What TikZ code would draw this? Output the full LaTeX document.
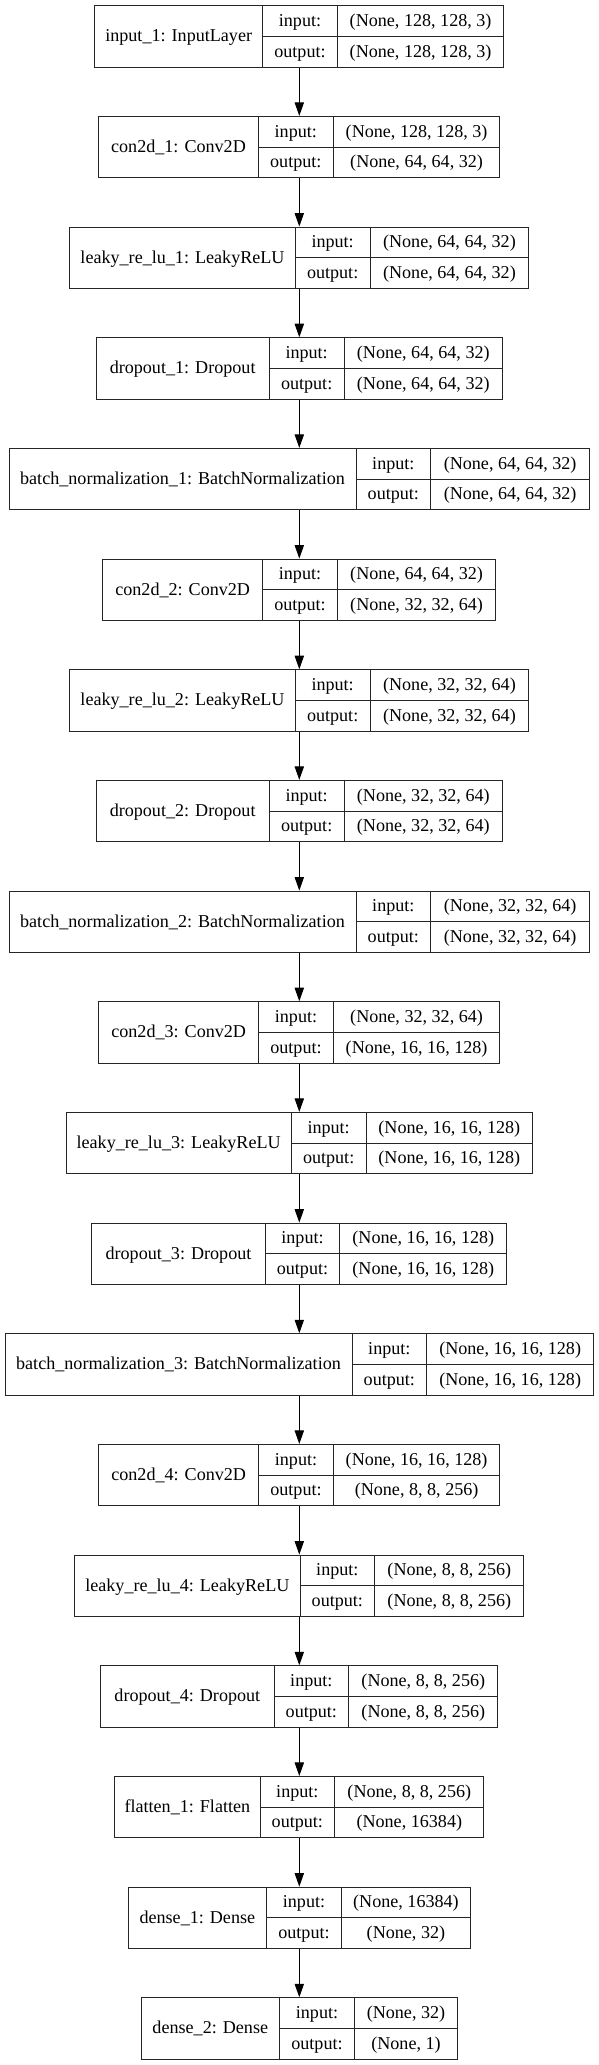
\documentclass[tikz,border=0pt]{standalone}
\usepackage{fontspec}
\setmainfont{Liberation Serif}
\usetikzlibrary{arrows.meta}
\tikzset{
  layerbox/.style={draw=black!85, line width=1pt, rectangle, inner sep=0pt, minimum height=61.3pt},
  divider/.style={draw=black!85, line width=1pt},
  txt/.style={inner sep=0pt, anchor=base, font=\fontsize{18.1}{21}\selectfont},
  arr/.style={draw=black, line width=1pt, -{Triangle[length=13.5pt,width=9.3pt]}},
}
\newcommand{\layer}[8]{%
  \pgfmathsetmacro{\yc}{-(36.35+110.67*#2)}%
  \pgfmathsetmacro{\Rx}{598.6-#3}%
  \pgfmathsetmacro{\Wd}{598.6-2*#3}%
  \node[layerbox, minimum width=\Wd pt] (#1) at (299.3,\yc) {};
  \draw[divider] (#4,\yc+30.65) -- (#4,\yc-30.65);
  \draw[divider] (#5,\yc+30.65) -- (#5,\yc-30.65);
  \draw[divider] (#4,\yc) -- (\Rx,\yc);
  \node[txt] (#1-l) at ({(#3+#4)/2},\yc-5.5) {#6};
  \node[txt] (#1-ik) at ({(#4+#5)/2},\yc+15.3-5.5) {input:};
  \node[txt] (#1-ok) at ({(#4+#5)/2},\yc-15.3-5.5) {output:};
  \node[txt] (#1-iv) at ({(#5+\Rx)/2},\yc+15.3-5.5) {#7};
  \node[txt] (#1-ov) at ({(#5+\Rx)/2},\yc-15.3-5.5) {#8};
}
\begin{document}
\begin{tikzpicture}[x=1pt,y=1pt]
\useasboundingbox (0,0) rectangle (599,-2065);
\fill[white] (0,0) rectangle (599,-2065);
\layer{b1}{0}{94.7}{262.7}{337.3}{input\_1: InputLayer}{(None, 128, 128, 3)}{(None, 128, 128, 3)}
\layer{b2}{1}{98.7}{258.3}{333.3}{con2d\_1: Conv2D}{(None, 128, 128, 3)}{(None, 64, 64, 32)}
\layer{b3}{2}{69.7}{295.3}{370}{leaky\_re\_lu\_1: LeakyReLU}{(None, 64, 64, 32)}{(None, 64, 64, 32)}
\layer{b4}{3}{96}{269.3}{344}{dropout\_1: Dropout}{(None, 64, 64, 32)}{(None, 64, 64, 32)}
\layer{b5}{4}{9}{356}{430.7}{batch\_normalization\_1: BatchNormalization}{(None, 64, 64, 32)}{(None, 64, 64, 32)}
\layer{b6}{5}{102.7}{262.7}{337.3}{con2d\_2: Conv2D}{(None, 64, 64, 32)}{(None, 32, 32, 64)}
\layer{b7}{6}{69.7}{295.3}{370}{leaky\_re\_lu\_2: LeakyReLU}{(None, 32, 32, 64)}{(None, 32, 32, 64)}
\layer{b8}{7}{96}{269.3}{344}{dropout\_2: Dropout}{(None, 32, 32, 64)}{(None, 32, 32, 64)}
\layer{b9}{8}{9}{356}{430.7}{batch\_normalization\_2: BatchNormalization}{(None, 32, 32, 64)}{(None, 32, 32, 64)}
\layer{b10}{9}{98.7}{258.7}{333.3}{con2d\_3: Conv2D}{(None, 32, 32, 64)}{(None, 16, 16, 128)}
\layer{b11}{10}{66}{291.3}{366}{leaky\_re\_lu\_3: LeakyReLU}{(None, 16, 16, 128)}{(None, 16, 16, 128)}
\layer{b12}{11}{91.7}{265.3}{339.7}{dropout\_3: Dropout}{(None, 16, 16, 128)}{(None, 16, 16, 128)}
\layer{b13}{12}{5}{352}{426.7}{batch\_normalization\_3: BatchNormalization}{(None, 16, 16, 128)}{(None, 16, 16, 128)}
\layer{b14}{13}{98.7}{258.7}{333.3}{con2d\_4: Conv2D}{(None, 16, 16, 128)}{(None, 8, 8, 256)}
\layer{b15}{14}{74.7}{300}{374.7}{leaky\_re\_lu\_4: LeakyReLU}{(None, 8, 8, 256)}{(None, 8, 8, 256)}
\layer{b16}{15}{100.7}{274}{348.7}{dropout\_4: Dropout}{(None, 8, 8, 256)}{(None, 8, 8, 256)}
\layer{b17}{16}{114.7}{260}{334.7}{flatten\_1: Flatten}{(None, 8, 8, 256)}{(None, 16384)}
\layer{b18}{17}{128}{266.7}{341.3}{dense\_1: Dense}{(None, 16384)}{(None, 32)}
\layer{b19}{18}{141.3}{279.3}{354.7}{dense\_2: Dense}{(None, 32)}{(None, 1)}
\foreach \a [evaluate=\a as \b using int(\a+1)] in {1,...,18} {
  \draw[arr] (b\a.south) -- (b\b.north);
}
\end{tikzpicture}
\end{document}
